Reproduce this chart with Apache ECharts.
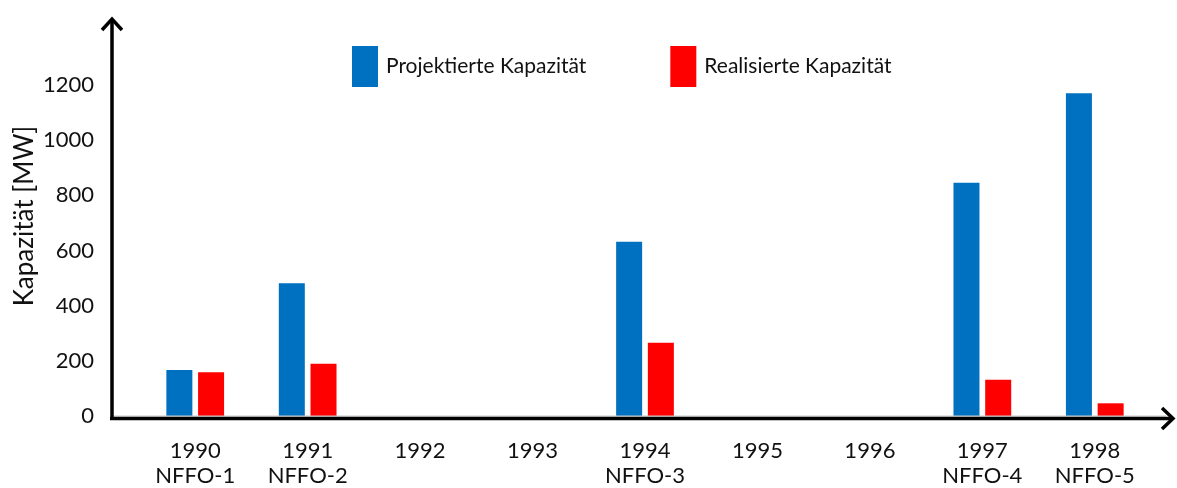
<!DOCTYPE html>
<html>
<head>
<meta charset="utf-8">
<script src="https://cdn.jsdelivr.net/npm/echarts@6/dist/echarts.min.js"></script>
<style>
  html, body { margin: 0; padding: 0; background: #fff; }
  #main { width: 1177px; height: 488px; }
</style>
</head>
<body>
<div id="main"></div>
<script>
// Daten
const years = ['1990', '1991', '1992', '1993', '1994', '1995', '1996', '1997', '1998'];
const rounds = ['NFFO-1', 'NFFO-2', '', '', 'NFFO-3', '', '', 'NFFO-4', 'NFFO-5'];
const projektiert = [167, 481, null, null, 632, null, null, 846, 1170];
const realisiert = [159, 189, null, null, 266, null, null, 131, 46];

const categories = years.map((y, i) => rounds[i] ? y + '\n' + rounds[i] : y);

const font = 'Lato, "Open Sans", sans-serif';
const chart = echarts.init(document.getElementById('main'));

chart.setOption({
  animation: false,
  grid: { left: 139, right: 26, top: 85, bottom: 68.5 },
  legend: {
    left: 352,
    top: 46,
    padding: 0,
    icon: 'rect',
    itemWidth: 26,
    itemHeight: 41,
    itemGap: 84,
    textStyle: { fontFamily: font, fontSize: 21, color: '#111', padding: [2, 0, 0, 3] },
    data: ['Projektierte Kapazität', 'Realisierte Kapazität']
  },
  xAxis: {
    type: 'category',
    data: categories,
    axisLine: { show: false },
    axisTick: { show: false },
    axisLabel: {
      margin: 22,
      fontFamily: font,
      fontSize: 22,
      lineHeight: 25,
      color: '#111'
    }
  },
  yAxis: {
    type: 'value',
    min: 0,
    max: 1200,
    interval: 200,
    axisLine: { show: false },
    axisTick: { show: false },
    splitLine: { show: false },
    axisLabel: {
      margin: 45,
      fontFamily: font,
      fontSize: 22,
      color: '#111',
      formatter: v => String(v)
    }
  },
  series: [
    {
      name: 'Projektierte Kapazität',
      type: 'bar',
      data: projektiert,
      barWidth: 26,
      barGap: '22%',
      itemStyle: { color: '#0070C0' }
    },
    {
      name: 'Realisierte Kapazität',
      type: 'bar',
      data: realisiert,
      barWidth: 26,
      itemStyle: { color: '#FF0000' }
    }
  ],
  graphic: [
    // Achsentitel
    {
      type: 'text', x: 25, y: 216, rotation: Math.PI / 2,
      style: { text: 'Kapazität [MW]', font: '26px ' + font, fill: '#111', align: 'center', verticalAlign: 'middle' }
    },
    // graue Excel-Achse unter dem Pfeil
    { type: 'line', shape: { x1: 113, y1: 416, x2: 1166, y2: 416 }, style: { stroke: '#c8c8c8', lineWidth: 1 }, z: 10 },
    // Achsen mit Pfeilen
    { type: 'line', shape: { x1: 112, y1: 420, x2: 112, y2: 20 }, style: { stroke: '#000', lineWidth: 3.5 }, z: 11 },
    { type: 'polyline', shape: { points: [[102, 30], [112, 19], [122, 30]] }, style: { stroke: '#000', lineWidth: 3.5, fill: null }, z: 11 },
    { type: 'line', shape: { x1: 110, y1: 418.5, x2: 1172, y2: 418.5 }, style: { stroke: '#000', lineWidth: 3.5 }, z: 11 },
    { type: 'polyline', shape: { points: [[1162, 408], [1173, 418.5], [1162, 429]] }, style: { stroke: '#000', lineWidth: 3.5, fill: null }, z: 11 }
  ]
});
</script>
</body>
</html>
